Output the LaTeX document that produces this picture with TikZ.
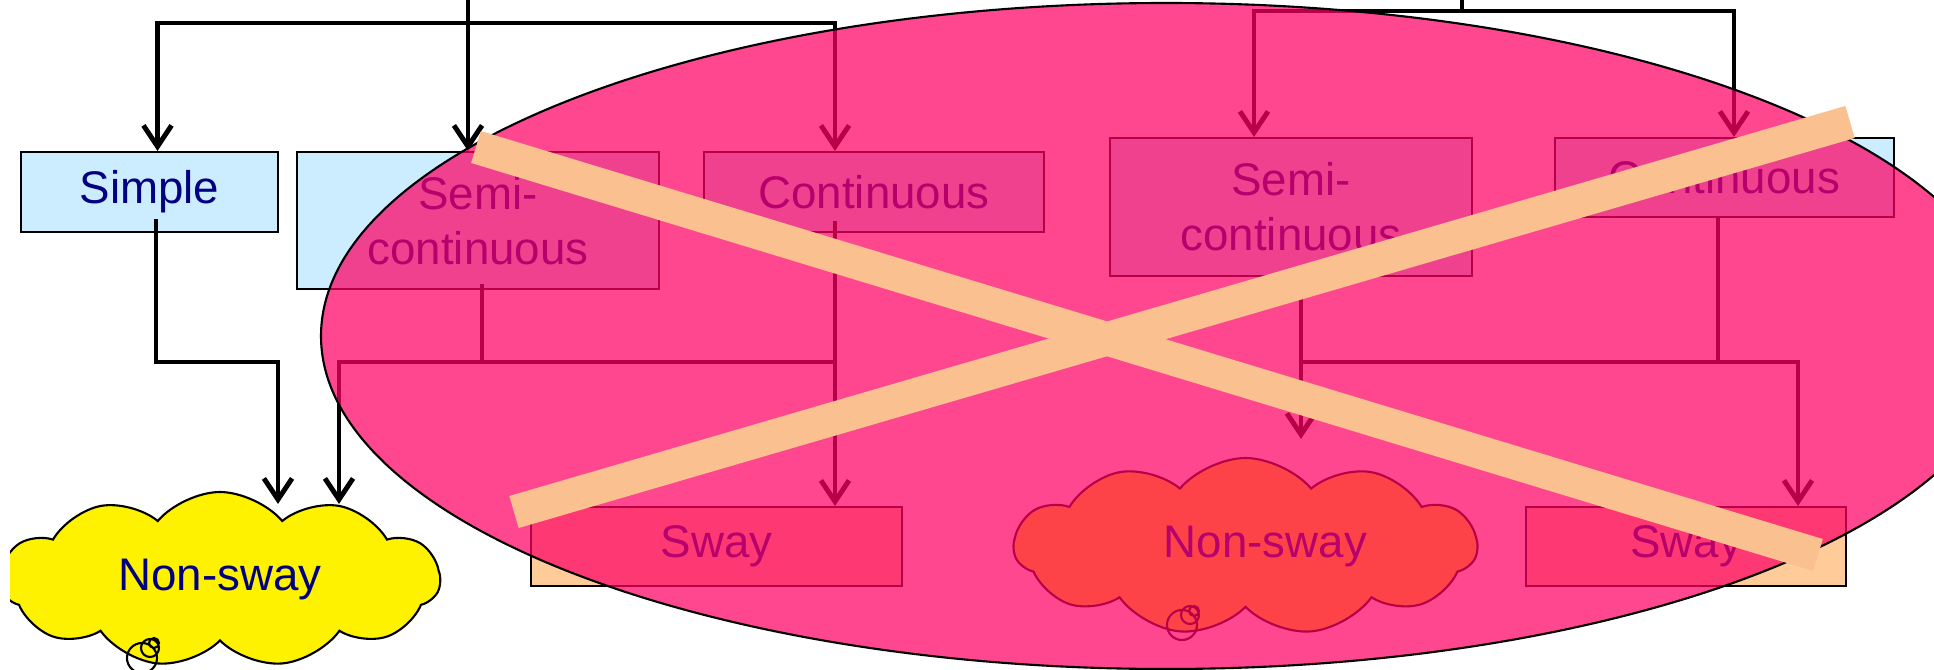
\documentclass[tikz,border=0pt]{standalone}
\usepackage{fontspec}
\setmainfont{Liberation Sans}
\usetikzlibrary{arrows.meta,shapes.symbols}
\definecolor{skyblue}{HTML}{CCECFF}
\definecolor{peach}{HTML}{FFCC99}
\definecolor{crossbar}{HTML}{FAC090}
\definecolor{veil}{HTML}{FE0065}
\definecolor{navytext}{HTML}{000080}

\begin{document}
\begin{tikzpicture}[
    box/.style={draw=black, line width=0.6pt, inner sep=0pt, align=center, text=navytext,
                font=\fontsize{13}{15.6}\selectfont},
    puff/.style={cloud, cloud puffs=11, cloud puff arc=100, cloud ignores aspect, draw=black,
                 line width=0.6pt, fill=yellow, text=navytext, font=\fontsize{13}{15.6}\selectfont},
    bubble/.style={draw=black, line width=0.6pt},
    wire/.style={line width=1.4pt},
    conn/.style={wire, -{Straight Barb[length=6pt,width=8pt]}},
    cross/.style={line width=9.5pt, crossbar}
  ]
  \useasboundingbox (0,0) rectangle (19.34,-6.70);
  \fill[white] (0,0) rectangle (19.34,-6.70);
  \clip (0,0) rectangle (19.34,-6.70);

  % the boxes
  \node[box, fill=skyblue, minimum width=2.57cm, minimum height=0.80cm] (simple) at (1.495,-1.92) {Simple};
  \node[box, fill=skyblue, minimum width=3.62cm, minimum height=1.37cm] (semiL) at (4.78,-2.205) {Semi-\\continuous};
  \node[box, fill=skyblue, minimum width=3.40cm, minimum height=0.80cm] (contL) at (8.74,-1.92) {Continuous};
  \node[box, fill=skyblue, minimum width=3.62cm, minimum height=1.38cm] (semiR) at (12.91,-2.07) {Semi-\\continuous};
  \node[box, fill=skyblue, minimum width=3.39cm, minimum height=0.79cm] (contR) at (17.245,-1.775) {Continuous};
  \node[box, fill=peach, minimum width=3.71cm, minimum height=0.79cm] (swayL) at (7.165,-5.465) {Sway};
  \node[box, fill=peach, minimum width=3.20cm, minimum height=0.79cm] (swayR) at (16.86,-5.465) {Sway};

  % the clouds
  \begin{scope}
    \clip (0.10,-4.6) rectangle (5,-6.70);
    \node[puff, minimum width=4.40cm, minimum height=1.75cm] (nonswayL) at (2.20,-5.795) {Non-sway};
  \end{scope}
  \draw[bubble] (1.42,-6.58) circle (0.15) (1.50,-6.48) circle (0.09) (1.54,-6.43) circle (0.05);
  \node[puff, minimum width=4.63cm, minimum height=1.77cm] (nonswayR) at (12.455,-5.465) {\hspace*{0.4cm}Non-sway};
  \draw[bubble] (11.82,-6.25) circle (0.15) (11.90,-6.15) circle (0.09) (11.94,-6.11) circle (0.05);

  % left tree
  \coordinate (inL) at (4.68,0);
  \coordinate (busL) at (4.68,-0.23);
  \draw[wire] (inL) -- (busL);
  \draw[conn] (busL) -| ([xshift=0.8mm]simple.north);
  \draw[conn] (busL) -- (busL |- semiL.north);
  \draw[conn] (busL) -| ([xshift=-3.9mm]contL.north);

  \coordinate (jSimple) at (1.56,-3.62);
  \coordinate (jSimpleR) at (2.78,-3.62);
  \coordinate (jSemiL) at (4.82,-3.62);
  \coordinate (jLeft) at (3.39,-3.62);
  \coordinate (jContL) at (8.35,-3.62);
  \draw[conn] ([yshift=1.4mm]simple.south -| jSimple) -- (jSimple) -- (jSimpleR)
    -- ([yshift=-1.3mm]jSimpleR |- nonswayL.north);
  \draw[wire] ([yshift=0.6mm]semiL.south -| jSemiL) -- (jSemiL);
  \draw[conn] (jContL) -- (jLeft) -- ([yshift=-1.3mm]jLeft |- nonswayL.north);
  \draw[conn] ([yshift=1.2mm]contL.south -| jContL) -- (jContL |- swayL.north);

  % right tree
  \coordinate (inR) at (14.62,0);
  \coordinate (busR) at (14.62,-0.11);
  \draw[wire] (inR) -- (busR);
  \draw[conn] (busR) -| ([xshift=-3.7mm]semiR.north);
  \draw[conn] (busR) -| ([xshift=0.95mm]contR.north);

  \coordinate (jSemiR) at (13.01,-3.62);
  \coordinate (jContR) at (17.18,-3.62);
  \coordinate (jRight) at (17.98,-3.62);
  \draw[conn, shorten >=1.8mm] (semiR.south -| jSemiR) -- (jSemiR |- nonswayR.north);
  \draw[wire] (contR.south -| jContR) -- (jContR);
  \draw[conn] (jSemiR) -- (jRight) -- (jRight |- swayR.north);

  % the veil over all but Simple
  \draw[line width=0.6pt, fill=veil, fill opacity=0.72] (11.66,-3.36) ellipse [x radius=8.45, y radius=3.33];

  % crossed out
  \coordinate (xa) at (4.76,-1.47);
  \coordinate (xb) at (18.18,-5.55);
  \coordinate (xc) at (5.14,-5.12);
  \coordinate (xd) at (18.50,-1.22);
  \draw[cross] (xa) -- (xb);
  \draw[cross] (xc) -- (xd);

\end{tikzpicture}
\end{document}
